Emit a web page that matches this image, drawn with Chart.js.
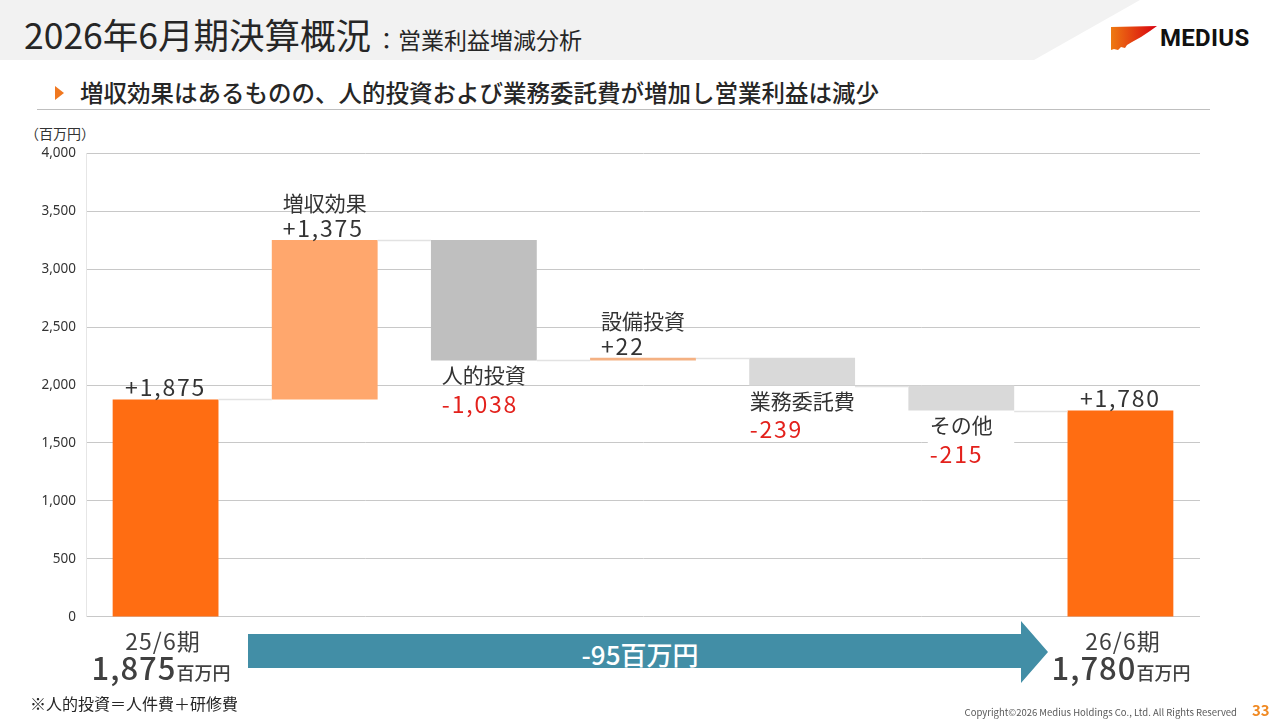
<!DOCTYPE html>
<html lang="ja">
<head>
<meta charset="utf-8">
<script src="https://cdn.jsdelivr.net/npm/chart.js@4.4.1/dist/chart.umd.min.js"></script>
<style>
  html,body{margin:0;padding:0;background:#fff;}
  body{width:1280px;height:720px;position:relative;overflow:hidden;font-family:"Noto Sans CJK JP","Noto Sans",sans-serif;color:#333;}
  .abs{position:absolute;white-space:nowrap;}
  #hdr{position:absolute;left:0;top:0;width:1280px;height:60px;}
  #title{left:24px;top:12px;font-size:35.5px;color:#262626;line-height:44px;font-weight:400;}
  #title small{font-size:23px;margin-left:4px;}
  #sub{left:80px;top:77px;font-size:23.5px;font-weight:500;color:#262626;line-height:30px;}
  #tri{left:55px;top:86px;width:0;height:0;border-top:7px solid transparent;border-bottom:7px solid transparent;border-left:9px solid #F07820;}
  #rule{left:37px;top:109px;width:1173px;height:1px;background:#bfbfbf;}
  #unit{left:25px;top:123px;font-size:14px;color:#333;}
  #chartBox{position:absolute;left:26px;top:135px;width:1180px;height:500px;}
  .period{font-size:23px;color:#404040;text-align:center;width:200px;line-height:26px;letter-spacing:1px;}
  .total{font-size:31px;font-weight:500;color:#404040;text-align:center;width:220px;line-height:34px;letter-spacing:1px;}
  .total span{font-size:18px;letter-spacing:0;}
  #note{left:30px;top:691px;font-size:16px;color:#262626;}
  #copy{right:43px;top:705px;font-size:9.5px;color:#595959;}
  #pg{left:1252px;top:699px;font-size:15px;font-weight:bold;color:#F08A24;}
  #arrowTxt{left:540px;top:637px;width:200px;text-align:center;font-size:26px;color:#fff;font-weight:500;line-height:34px;}
  #medius{left:1160px;top:23px;font-family:Roboto,"Liberation Sans",sans-serif;font-weight:bold;font-size:24px;color:#111;letter-spacing:0.3px;line-height:30px;}
</style>
</head>
<body>
<svg id="hdr" width="1280" height="60">
  <polygon points="0,0 1140,0 1034,60 0,60" fill="#f2f2f2"/>
</svg>
<svg class="abs" style="left:0;top:0" width="1280" height="720">
  <defs>
    <linearGradient id="lg" x1="0" x2="1" y1="0" y2="0">
      <stop offset="0" stop-color="#EE7A12"/>
      <stop offset="1" stop-color="#D8000F"/>
    </linearGradient>
  </defs>
  <polygon points="1111,27 1157,26 1150,31 1141,37 1132,42 1127,45 1125,48 1121,47 1118,50 1114,49 1111,50" fill="url(#lg)"/>
  <polygon points="248,634 1021,634 1021,621 1048,652 1021,683 1021,668 248,668" fill="#428EA6"/>
</svg>
<div id="medius" class="abs">MEDIUS</div>
<div id="title" class="abs">2026年6月期決算概況<small>：営業利益増減分析</small></div>
<div id="tri" class="abs"></div>
<div id="sub" class="abs">増収効果はあるものの、人的投資および業務委託費が増加し営業利益は減少</div>
<div id="rule" class="abs"></div>
<div id="unit" class="abs">（百万円）</div>
<div id="chartBox"><canvas id="c"></canvas></div>
<div class="abs period" style="left:63px;top:627px;">25/6期</div>
<div class="abs total" style="left:51px;top:650px;">1,875<span>百万円</span></div>
<div class="abs period" style="left:1023px;top:627px;">26/6期</div>
<div class="abs total" style="left:1011px;top:650px;">1,780<span>百万円</span></div>
<div id="arrowTxt" class="abs">-95百万円</div>
<div id="note" class="abs">※人的投資＝人件費＋研修費</div>
<div id="copy" class="abs">Copyright©2026 Medius Holdings Co., Ltd. All Rights Reserved</div>
<div id="pg" class="abs">33</div>
<script>
// ---- data ----
const categories = ['25/6期', '増収効果', '人的投資', '設備投資', '業務委託費', 'その他', '26/6期'];
const deltas = [1875, 1375, -1038, 22, -239, -215, 1780];
const isTotal = [true, false, false, false, false, false, true];
const valueLabels = ['+1,875', '+1,375', '-1,038', '+22', '-239', '-215', '+1,780'];
const yTicks = [0, 500, 1000, 1500, 2000, 2500, 3000, 3500, 4000];

// ---- styles ----
const barColors = ['#FF6D12', '#FFA76D', '#BFBFBF', '#F4B183', '#D9D9D9', '#D9D9D9', '#FF6D12'];
const labelBg = [false, false, false, false, false, true, false];

// floating ranges built from deltas
const ranges = [];
let run = 0;
deltas.forEach((d, i) => {
  if (isTotal[i]) { ranges.push([0, d]); run = d; }
  else { ranges.push([run, run + d]); run += d; }
});

const connectorPlugin = {
  id: 'connectors',
  afterDatasetsDraw(chart) {
    const meta = chart.getDatasetMeta(0);
    const ys = chart.scales.y;
    const ctx = chart.ctx;
    ctx.save();
    ctx.strokeStyle = '#e2e2e2';
    ctx.lineWidth = 1.5;
    for (let i = 0; i < meta.data.length - 1; i++) {
      const a = meta.data[i], b = meta.data[i + 1];
      const lvl = ranges[i][1];
      const y = Math.round(ys.getPixelForValue(lvl)) + 0.5;
      ctx.beginPath();
      ctx.moveTo(a.x + a.width / 2, y);
      ctx.lineTo(b.x - b.width / 2, y);
      ctx.stroke();
    }
    ctx.restore();
  }
};

const labelPlugin = {
  id: 'labels',
  afterDatasetsDraw(chart) {
    const meta = chart.getDatasetMeta(0);
    const ys = chart.scales.y;
    const ctx = chart.ctx;
    ctx.save();
    ctx.textBaseline = 'middle';
    const nameFont = '21px "Noto Sans CJK JP", sans-serif';
    const valFont = '23px "Noto Sans CJK JP", sans-serif';
    const valSpacing = '1.8px';
    meta.data.forEach((el, i) => {
      const r = ranges[i];
      const topPx = ys.getPixelForValue(Math.max(r[0], r[1]));
      const botPx = ys.getPixelForValue(Math.min(r[0], r[1]));
      const neg = deltas[i] < 0 && !isTotal[i];
      const valColor = neg ? '#E3211C' : '#333333';
      if (isTotal[i]) {
        ctx.font = valFont;
        ctx.letterSpacing = valSpacing;
        ctx.textAlign = 'center';
        ctx.fillStyle = '#333333';
        ctx.fillText(valueLabels[i], el.x, topPx - 12);
        ctx.letterSpacing = '0px';
        return;
      }
      ctx.font = nameFont;
      ctx.letterSpacing = '0px';
      const wn = ctx.measureText(categories[i]).width;
      ctx.font = valFont;
      ctx.letterSpacing = valSpacing;
      const wv = ctx.measureText(valueLabels[i]).width;
      const w = Math.max(wn, wv);
      const left = el.x - w / 2;
      let yName, yVal;
      if (!neg) { yName = topPx - 37; yVal = topPx - 12; }
      else { yName = botPx + 15; yVal = botPx + 44; }
      if (labelBg[i]) {
        ctx.fillStyle = '#ffffff';
        ctx.fillRect(left - 2, yName - 13, el.x + el.width / 2 - left + 2, yVal - yName + 28);
      }
      ctx.textAlign = 'left';
      ctx.font = nameFont;
      ctx.letterSpacing = '0px';
      ctx.fillStyle = '#333333';
      ctx.fillText(categories[i], left, yName);
      ctx.font = valFont;
      ctx.letterSpacing = valSpacing;
      ctx.fillStyle = valColor;
      ctx.fillText(valueLabels[i], left, yVal);
      ctx.letterSpacing = '0px';
    });
    ctx.restore();
  }
};

new Chart(document.getElementById('c'), {
  type: 'bar',
  data: {
    labels: categories,
    datasets: [{
      data: ranges,
      backgroundColor: barColors,
      borderWidth: 0,
      barPercentage: 0.665,
      categoryPercentage: 1.0
    }]
  },
  options: {
    responsive: true,
    maintainAspectRatio: false,
    animation: false,
    layout: { padding: { left: 0, right: 6, top: 0, bottom: 0 } },
    plugins: { legend: { display: false }, tooltip: { enabled: false } },
    scales: {
      x: { display: false },
      y: {
        min: 0, max: 4000,
        afterBuildTicks(scale) { scale.ticks = yTicks.map(v => ({ value: v })); },
        afterFit(scale) { scale.width = 60; },
        grid: { color: '#c8c8c8', lineWidth: 1, drawTicks: false },
        border: { color: '#e6e6e6', width: 1 },
        ticks: {
          padding: 10,
          color: '#333333',
          font: { size: 13.5, family: '"Noto Sans", "Noto Sans CJK JP", sans-serif' },
          callback: v => v.toLocaleString('en-US')
        }
      }
    }
  },
  plugins: [connectorPlugin, labelPlugin]
});
</script>
</body>
</html>
